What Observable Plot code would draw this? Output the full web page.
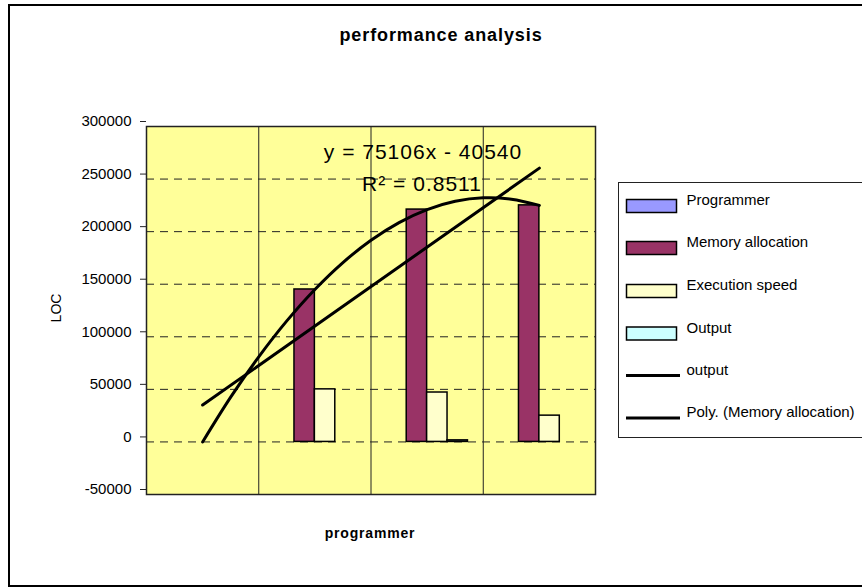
<!DOCTYPE html>
<html><head><meta charset="utf-8">
<script src="https://cdn.jsdelivr.net/npm/d3@7"></script>
<script src="https://cdn.jsdelivr.net/npm/@observablehq/plot@0.6"></script>
<style>
body{margin:0;background:#fff;}
#wrap{position:relative;width:862px;height:588px;overflow:hidden;font-family:"Liberation Sans",Arial,sans-serif;}
#wrap svg{position:absolute;left:0;top:0;}
</style></head><body><div id="wrap"></div>
<script>
// ---- data ----
const categories = [1, 2, 3, 4];
const seriesNames = ["Programmer", "Memory allocation", "Execution speed", "Output"];
const seriesColors = ["#9999FF", "#993366", "#FFFFCC", "#CCFFFF"];
const programmerVals = [0, 0, 0, 0];
const memoryVals = [0, 145000, 221000, 225000];
const executionVals = [0, 50000, 47000, 25000];
const outputVals = [0, 0, 1500, 0];
// polynomial trendline of Memory allocation
const polyX = [1, 1.25, 1.5, 1.75, 2, 2.25, 2.5, 2.75, 3, 3.25, 3.5, 3.75, 4];
const polyY = [0, 42600, 80900, 115100, 145000, 170600, 191800, 208600, 221000, 228900, 232200, 230900, 225000];
const yTicks = [-50000, 0, 50000, 100000, 150000, 200000, 250000, 300000];
const titleText = "performance analysis";
const xLabel = "programmer";
const yLabel = "LOC";
const eqLine1 = "y = 75106x - 40540";
const eqLine2 = "R² = 0.8511";
const legendLines = ["output", "Poly. (Memory allocation)"];

// ---- build tables ----
const seriesVals = [programmerVals, memoryVals, executionVals, outputVals];
const nS = seriesVals.length, gapRatio = 1.5, bw = 1 / (nS + gapRatio);
const bars = [];
seriesVals.forEach((vals, s) => {
  categories.forEach((c, i) => {
    if (vals[i] !== 0) bars.push({x1: c - nS * bw / 2 + s * bw, x2: c - nS * bw / 2 + (s + 1) * bw, y: vals[i], fill: seriesColors[s]});
  });
});
const memTable = categories.map((c, i) => ({x: c, y: memoryVals[i]}));
const polyTable = polyX.map((x, i) => ({x, y: polyY[i]}));

const font = '"Liberation Sans", Arial, sans-serif';
const chart = Plot.plot({
  width: 862, height: 588,
  marginLeft: 146, marginRight: 267, marginTop: 126, marginBottom: 94,
  x: {domain: [0.5, 4.5], axis: null},
  y: {domain: [-50000, 300000]},
  style: {background: "transparent", color: "black", fontFamily: font, fontSize: "15px"},
  marks: [
    Plot.frame({fill: "#FFFF99"}),
    Plot.ruleY(yTicks.filter(t => t > -50000 && t < 300000), {stroke: "#222", strokeWidth: 1, strokeDasharray: "8,6"}),
    Plot.ruleX(categories.slice(1).map(c => c - 0.5), {stroke: "#222", strokeWidth: 1}),
    Plot.rect(bars, {x1: "x1", x2: "x2", y1: 0, y2: "y", fill: "fill", stroke: "black", strokeWidth: 1.5}),
    Plot.linearRegressionY(memTable, {x: "x", y: "y", stroke: "black", strokeWidth: 3, ci: 0}),
    Plot.line(polyTable, {x: "x", y: "y", stroke: "black", strokeWidth: 3, curve: "catmull-rom"}),
    Plot.frame({stroke: "#222", strokeWidth: 1.5}),
    Plot.axisY({ticks: yTicks, tickSize: 6, tickPadding: 9, tickFormat: d => String(d), label: null, fontSize: 15, dy: -5, stroke: "#222"})
  ]
});
const wrap = document.getElementById("wrap");
wrap.appendChild(chart);

// ---- overlay: title, labels, equation, legend, border ----
const svg = d3.select(wrap).append("svg").attr("width", 862).attr("height", 588)
  .style("font-family", font).style("pointer-events", "none");
svg.append("rect").attr("x", 9).attr("y", 5).attr("width", 900).attr("height", 581)
  .attr("fill", "none").attr("stroke", "black").attr("stroke-width", 2);
svg.append("text").attr("x", 441).attr("y", 41).attr("text-anchor", "middle")
  .attr("font-size", 18).attr("font-weight", "bold").attr("letter-spacing", 0.9).text(titleText);
svg.append("text").attr("x", 370).attr("y", 538).attr("text-anchor", "middle")
  .attr("font-size", 14).attr("font-weight", "bold").attr("letter-spacing", 0.8).text(xLabel);
svg.append("text").attr("transform", "translate(61,308) rotate(-90)").attr("text-anchor", "middle")
  .attr("font-size", 14).text(yLabel);
svg.append("text").attr("x", 423).attr("y", 159).attr("text-anchor", "middle")
  .attr("font-size", 21).attr("letter-spacing", 1).text(eqLine1);
svg.append("text").attr("x", 422).attr("y", 191).attr("text-anchor", "middle")
  .attr("font-size", 21).attr("letter-spacing", 1).text(eqLine2);

// legend
svg.append("rect").attr("x", 618.5).attr("y", 182.5).attr("width", 300).attr("height", 255)
  .attr("fill", "white").attr("stroke", "#222").attr("stroke-width", 1);
const rowY = [206, 248, 291, 333.5, 375.5, 418];
const items = seriesNames.map((n, i) => ({label: n, color: seriesColors[i], type: "box"}))
  .concat(legendLines.map(n => ({label: n, type: "line"})));
items.forEach((it, i) => {
  const cy = rowY[i];
  if (it.type === "box") {
    svg.append("rect").attr("x", 626.5).attr("y", cy - 6.5).attr("width", 50).attr("height", 13)
      .attr("fill", it.color).attr("stroke", "black").attr("stroke-width", 1.5);
  } else {
    svg.append("line").attr("x1", 626).attr("x2", 680).attr("y1", cy).attr("y2", cy)
      .attr("stroke", "black").attr("stroke-width", 3);
  }
  svg.append("text").attr("x", 686.5).attr("y", cy - 1).attr("font-size", 15).text(it.label);
});
</script></body></html>
